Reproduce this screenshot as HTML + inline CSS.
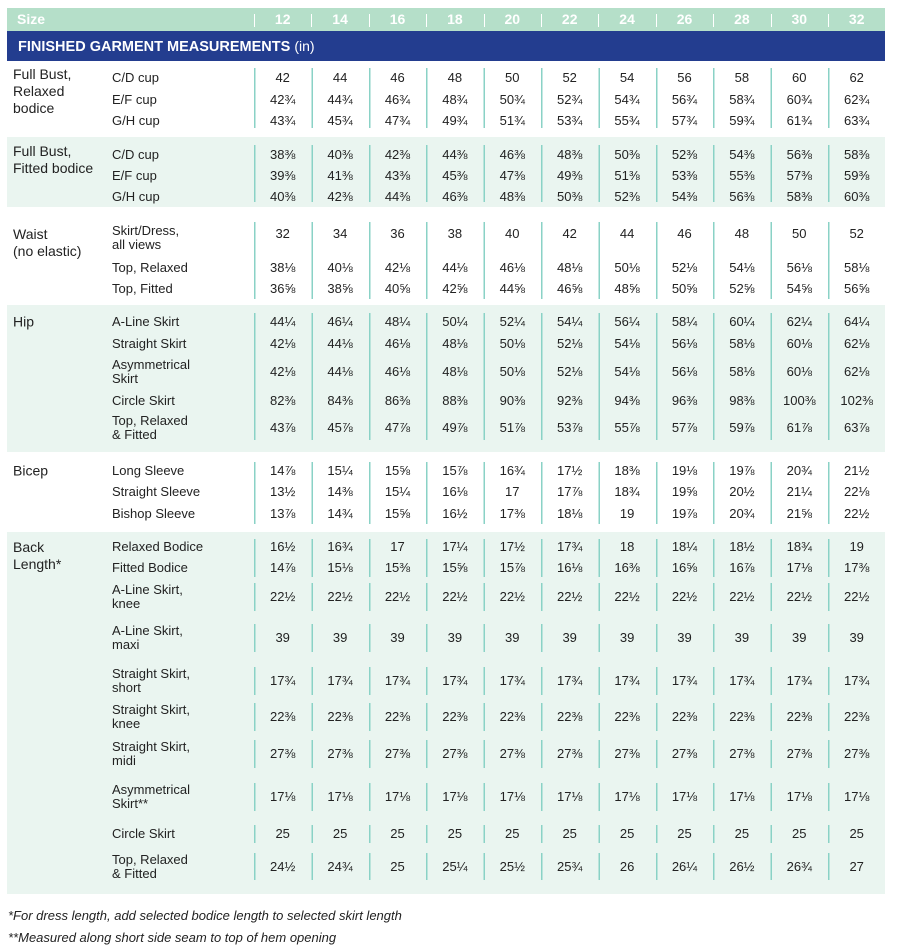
<!DOCTYPE html>
<html><head><meta charset="utf-8"><style>
*{margin:0;padding:0;box-sizing:border-box}
body{width:900px;height:952px;background:#fff;position:relative;font-family:"Liberation Sans",sans-serif;color:#222;overflow:hidden}
.a{position:absolute}
.hdr{left:7px;top:8px;width:878px;height:23px;background:#b5dfc9;color:#fff;font-weight:bold;font-size:14px}
.hdr span{position:absolute;top:3px}
.hdr .s{width:57.4px;text-align:center}
.hdr .s:before{content:"";position:absolute;left:0;top:3px;height:13px;border-left:1px solid #fff}
.blue{left:7px;top:31px;width:878px;height:30px;background:#233d8f;color:#fff;font-weight:bold;font-size:14.5px;line-height:30px;padding-left:11px}
.blue small{font-weight:normal;font-size:14px}
.g{background:#eaf5f0;left:7px;width:878px}
.lines{left:254px;width:577px;background:repeating-linear-gradient(to right,#8ad2c6 0 1.5px,transparent 1.5px 57.4px)}
.r{position:absolute;left:0;width:900px;height:0}
.r>*{position:absolute;top:0;transform:translateY(-50%)}
.lab{left:13px;font-size:14px;line-height:17px}
.sub{left:112px;font-size:13px;line-height:14px}
.c{width:57.4px;text-align:center;font-size:13px;line-height:16px}
.seg{border-left:1.5px solid #8ad2c6}
.fn{left:8px;font-style:italic;font-size:13px}
</style></head><body>
<div class="a hdr"><span style="left:10px">Size</span>
<span class="s" style="left:247px">12</span><span class="s" style="left:304.4px">14</span><span class="s" style="left:361.8px">16</span><span class="s" style="left:419.2px">18</span><span class="s" style="left:476.6px">20</span><span class="s" style="left:534px">22</span><span class="s" style="left:591.4px">24</span><span class="s" style="left:648.8px">26</span><span class="s" style="left:706.2px">28</span><span class="s" style="left:763.6px">30</span><span class="s" style="left:821px">32</span></div>
<div class="a blue">FINISHED GARMENT MEASUREMENTS <small>(in)</small></div>

<div class="a g" style="top:137px;height:70px"></div>
<div class="a g" style="top:305px;height:147px"></div>
<div class="a g" style="top:532px;height:362px"></div>

<div class="a lines" style="top:68px;height:60px"></div>
<div class="a lines" style="top:145px;height:57px"></div>
<div class="a lines" style="top:222px;height:77px"></div>
<div class="a lines" style="top:313px;height:127px"></div>
<div class="a lines" style="top:462px;height:62px"></div>
<div class="a lines" style="top:539px;height:38px"></div>

<div class="r" style="top:92px"><div class="lab" style="top:-14px;transform:none;top:-26px">Full Bust,<br>Relaxed<br>bodice</div></div>
<div class="r" style="top:78px"><div class="sub">C/D cup</div><div class="c" style="left:254px">42</div><div class="c" style="left:311.4px">44</div><div class="c" style="left:368.8px">46</div><div class="c" style="left:426.2px">48</div><div class="c" style="left:483.6px">50</div><div class="c" style="left:541px">52</div><div class="c" style="left:598.4px">54</div><div class="c" style="left:655.8px">56</div><div class="c" style="left:713.2px">58</div><div class="c" style="left:770.6px">60</div><div class="c" style="left:828px">62</div></div>
<div class="r" style="top:100px"><div class="sub">E/F cup</div><div class="c" style="left:254px">42¾</div><div class="c" style="left:311.4px">44¾</div><div class="c" style="left:368.8px">46¾</div><div class="c" style="left:426.2px">48¾</div><div class="c" style="left:483.6px">50¾</div><div class="c" style="left:541px">52¾</div><div class="c" style="left:598.4px">54¾</div><div class="c" style="left:655.8px">56¾</div><div class="c" style="left:713.2px">58¾</div><div class="c" style="left:770.6px">60¾</div><div class="c" style="left:828px">62¾</div></div>
<div class="r" style="top:121px"><div class="sub">G/H cup</div><div class="c" style="left:254px">43¾</div><div class="c" style="left:311.4px">45¾</div><div class="c" style="left:368.8px">47¾</div><div class="c" style="left:426.2px">49¾</div><div class="c" style="left:483.6px">51¾</div><div class="c" style="left:541px">53¾</div><div class="c" style="left:598.4px">55¾</div><div class="c" style="left:655.8px">57¾</div><div class="c" style="left:713.2px">59¾</div><div class="c" style="left:770.6px">61¾</div><div class="c" style="left:828px">63¾</div></div>

<div class="r" style="top:160px"><div class="lab">Full Bust,<br>Fitted bodice</div></div>
<div class="r" style="top:155px"><div class="sub">C/D cup</div><div class="c" style="left:254px">38⅜</div><div class="c" style="left:311.4px">40⅜</div><div class="c" style="left:368.8px">42⅜</div><div class="c" style="left:426.2px">44⅜</div><div class="c" style="left:483.6px">46⅜</div><div class="c" style="left:541px">48⅜</div><div class="c" style="left:598.4px">50⅜</div><div class="c" style="left:655.8px">52⅜</div><div class="c" style="left:713.2px">54⅜</div><div class="c" style="left:770.6px">56⅜</div><div class="c" style="left:828px">58⅜</div></div>
<div class="r" style="top:176px"><div class="sub">E/F cup</div><div class="c" style="left:254px">39⅜</div><div class="c" style="left:311.4px">41⅜</div><div class="c" style="left:368.8px">43⅜</div><div class="c" style="left:426.2px">45⅜</div><div class="c" style="left:483.6px">47⅜</div><div class="c" style="left:541px">49⅜</div><div class="c" style="left:598.4px">51⅜</div><div class="c" style="left:655.8px">53⅜</div><div class="c" style="left:713.2px">55⅜</div><div class="c" style="left:770.6px">57⅜</div><div class="c" style="left:828px">59⅜</div></div>
<div class="r" style="top:197px"><div class="sub">G/H cup</div><div class="c" style="left:254px">40⅜</div><div class="c" style="left:311.4px">42⅜</div><div class="c" style="left:368.8px">44⅜</div><div class="c" style="left:426.2px">46⅜</div><div class="c" style="left:483.6px">48⅜</div><div class="c" style="left:541px">50⅜</div><div class="c" style="left:598.4px">52⅜</div><div class="c" style="left:655.8px">54⅜</div><div class="c" style="left:713.2px">56⅜</div><div class="c" style="left:770.6px">58⅜</div><div class="c" style="left:828px">60⅜</div></div>

<div class="r" style="top:243px"><div class="lab">Waist<br>(no elastic)</div></div>
<div class="r" style="top:238px"><div class="sub">Skirt/Dress,<br>all views</div></div>
<div class="r" style="top:234px"><div class="c" style="left:254px">32</div><div class="c" style="left:311.4px">34</div><div class="c" style="left:368.8px">36</div><div class="c" style="left:426.2px">38</div><div class="c" style="left:483.6px">40</div><div class="c" style="left:541px">42</div><div class="c" style="left:598.4px">44</div><div class="c" style="left:655.8px">46</div><div class="c" style="left:713.2px">48</div><div class="c" style="left:770.6px">50</div><div class="c" style="left:828px">52</div></div>
<div class="r" style="top:268px"><div class="sub">Top, Relaxed</div><div class="c" style="left:254px">38⅛</div><div class="c" style="left:311.4px">40⅛</div><div class="c" style="left:368.8px">42⅛</div><div class="c" style="left:426.2px">44⅛</div><div class="c" style="left:483.6px">46⅛</div><div class="c" style="left:541px">48⅛</div><div class="c" style="left:598.4px">50⅛</div><div class="c" style="left:655.8px">52⅛</div><div class="c" style="left:713.2px">54⅛</div><div class="c" style="left:770.6px">56⅛</div><div class="c" style="left:828px">58⅛</div></div>
<div class="r" style="top:289px"><div class="sub">Top, Fitted</div><div class="c" style="left:254px">36⅝</div><div class="c" style="left:311.4px">38⅝</div><div class="c" style="left:368.8px">40⅝</div><div class="c" style="left:426.2px">42⅝</div><div class="c" style="left:483.6px">44⅝</div><div class="c" style="left:541px">46⅝</div><div class="c" style="left:598.4px">48⅝</div><div class="c" style="left:655.8px">50⅝</div><div class="c" style="left:713.2px">52⅝</div><div class="c" style="left:770.6px">54⅝</div><div class="c" style="left:828px">56⅝</div></div>

<div class="r" style="top:322px"><div class="lab">Hip</div><div class="sub">A-Line Skirt</div><div class="c" style="left:254px">44¼</div><div class="c" style="left:311.4px">46¼</div><div class="c" style="left:368.8px">48¼</div><div class="c" style="left:426.2px">50¼</div><div class="c" style="left:483.6px">52¼</div><div class="c" style="left:541px">54¼</div><div class="c" style="left:598.4px">56¼</div><div class="c" style="left:655.8px">58¼</div><div class="c" style="left:713.2px">60¼</div><div class="c" style="left:770.6px">62¼</div><div class="c" style="left:828px">64¼</div></div>
<div class="r" style="top:344px"><div class="sub">Straight Skirt</div><div class="c" style="left:254px">42⅛</div><div class="c" style="left:311.4px">44⅛</div><div class="c" style="left:368.8px">46⅛</div><div class="c" style="left:426.2px">48⅛</div><div class="c" style="left:483.6px">50⅛</div><div class="c" style="left:541px">52⅛</div><div class="c" style="left:598.4px">54⅛</div><div class="c" style="left:655.8px">56⅛</div><div class="c" style="left:713.2px">58⅛</div><div class="c" style="left:770.6px">60⅛</div><div class="c" style="left:828px">62⅛</div></div>
<div class="r" style="top:372px"><div class="sub">Asymmetrical<br>Skirt</div><div class="c" style="left:254px">42⅛</div><div class="c" style="left:311.4px">44⅛</div><div class="c" style="left:368.8px">46⅛</div><div class="c" style="left:426.2px">48⅛</div><div class="c" style="left:483.6px">50⅛</div><div class="c" style="left:541px">52⅛</div><div class="c" style="left:598.4px">54⅛</div><div class="c" style="left:655.8px">56⅛</div><div class="c" style="left:713.2px">58⅛</div><div class="c" style="left:770.6px">60⅛</div><div class="c" style="left:828px">62⅛</div></div>
<div class="r" style="top:401px"><div class="sub">Circle Skirt</div><div class="c" style="left:254px">82⅜</div><div class="c" style="left:311.4px">84⅜</div><div class="c" style="left:368.8px">86⅜</div><div class="c" style="left:426.2px">88⅜</div><div class="c" style="left:483.6px">90⅜</div><div class="c" style="left:541px">92⅜</div><div class="c" style="left:598.4px">94⅜</div><div class="c" style="left:655.8px">96⅜</div><div class="c" style="left:713.2px">98⅜</div><div class="c" style="left:770.6px">100⅜</div><div class="c" style="left:828px">102⅜</div></div>
<div class="r" style="top:428px"><div class="sub">Top, Relaxed<br>&amp; Fitted</div><div class="c" style="left:254px">43⅞</div><div class="c" style="left:311.4px">45⅞</div><div class="c" style="left:368.8px">47⅞</div><div class="c" style="left:426.2px">49⅞</div><div class="c" style="left:483.6px">51⅞</div><div class="c" style="left:541px">53⅞</div><div class="c" style="left:598.4px">55⅞</div><div class="c" style="left:655.8px">57⅞</div><div class="c" style="left:713.2px">59⅞</div><div class="c" style="left:770.6px">61⅞</div><div class="c" style="left:828px">63⅞</div></div>

<div class="r" style="top:471px"><div class="lab">Bicep</div><div class="sub">Long Sleeve</div><div class="c" style="left:254px">14⅞</div><div class="c" style="left:311.4px">15¼</div><div class="c" style="left:368.8px">15⅝</div><div class="c" style="left:426.2px">15⅞</div><div class="c" style="left:483.6px">16¾</div><div class="c" style="left:541px">17½</div><div class="c" style="left:598.4px">18⅜</div><div class="c" style="left:655.8px">19⅛</div><div class="c" style="left:713.2px">19⅞</div><div class="c" style="left:770.6px">20¾</div><div class="c" style="left:828px">21½</div></div>
<div class="r" style="top:492px"><div class="sub">Straight Sleeve</div><div class="c" style="left:254px">13½</div><div class="c" style="left:311.4px">14⅜</div><div class="c" style="left:368.8px">15¼</div><div class="c" style="left:426.2px">16⅛</div><div class="c" style="left:483.6px">17</div><div class="c" style="left:541px">17⅞</div><div class="c" style="left:598.4px">18¾</div><div class="c" style="left:655.8px">19⅝</div><div class="c" style="left:713.2px">20½</div><div class="c" style="left:770.6px">21¼</div><div class="c" style="left:828px">22⅛</div></div>
<div class="r" style="top:514px"><div class="sub">Bishop Sleeve</div><div class="c" style="left:254px">13⅞</div><div class="c" style="left:311.4px">14¾</div><div class="c" style="left:368.8px">15⅝</div><div class="c" style="left:426.2px">16½</div><div class="c" style="left:483.6px">17⅜</div><div class="c" style="left:541px">18⅛</div><div class="c" style="left:598.4px">19</div><div class="c" style="left:655.8px">19⅞</div><div class="c" style="left:713.2px">20¾</div><div class="c" style="left:770.6px">21⅝</div><div class="c" style="left:828px">22½</div></div>

<div class="r" style="top:556px"><div class="lab">Back<br>Length*</div></div>
<div class="r" style="top:547px"><div class="sub">Relaxed Bodice</div><div class="c" style="left:254px">16½</div><div class="c" style="left:311.4px">16¾</div><div class="c" style="left:368.8px">17</div><div class="c" style="left:426.2px">17¼</div><div class="c" style="left:483.6px">17½</div><div class="c" style="left:541px">17¾</div><div class="c" style="left:598.4px">18</div><div class="c" style="left:655.8px">18¼</div><div class="c" style="left:713.2px">18½</div><div class="c" style="left:770.6px">18¾</div><div class="c" style="left:828px">19</div></div>
<div class="r" style="top:568px"><div class="sub">Fitted Bodice</div><div class="c" style="left:254px">14⅞</div><div class="c" style="left:311.4px">15⅛</div><div class="c" style="left:368.8px">15⅜</div><div class="c" style="left:426.2px">15⅝</div><div class="c" style="left:483.6px">15⅞</div><div class="c" style="left:541px">16⅛</div><div class="c" style="left:598.4px">16⅜</div><div class="c" style="left:655.8px">16⅝</div><div class="c" style="left:713.2px">16⅞</div><div class="c" style="left:770.6px">17⅛</div><div class="c" style="left:828px">17⅜</div></div>

<div class="a lines" style="top:583px;height:28px"></div>
<div class="a lines" style="top:624px;height:28px"></div>
<div class="a lines" style="top:667px;height:28px"></div>
<div class="a lines" style="top:703px;height:28px"></div>
<div class="a lines" style="top:740px;height:28px"></div>
<div class="a lines" style="top:783px;height:28px"></div>
<div class="a lines" style="top:825px;height:18px"></div>
<div class="a lines" style="top:853px;height:27px"></div>

<div class="r" style="top:597px"><div class="sub">A-Line Skirt,<br>knee</div><div class="c" style="left:254px">22½</div><div class="c" style="left:311.4px">22½</div><div class="c" style="left:368.8px">22½</div><div class="c" style="left:426.2px">22½</div><div class="c" style="left:483.6px">22½</div><div class="c" style="left:541px">22½</div><div class="c" style="left:598.4px">22½</div><div class="c" style="left:655.8px">22½</div><div class="c" style="left:713.2px">22½</div><div class="c" style="left:770.6px">22½</div><div class="c" style="left:828px">22½</div></div>
<div class="r" style="top:638px"><div class="sub">A-Line Skirt,<br>maxi</div><div class="c" style="left:254px">39</div><div class="c" style="left:311.4px">39</div><div class="c" style="left:368.8px">39</div><div class="c" style="left:426.2px">39</div><div class="c" style="left:483.6px">39</div><div class="c" style="left:541px">39</div><div class="c" style="left:598.4px">39</div><div class="c" style="left:655.8px">39</div><div class="c" style="left:713.2px">39</div><div class="c" style="left:770.6px">39</div><div class="c" style="left:828px">39</div></div>
<div class="r" style="top:681px"><div class="sub">Straight Skirt,<br>short</div><div class="c" style="left:254px">17¾</div><div class="c" style="left:311.4px">17¾</div><div class="c" style="left:368.8px">17¾</div><div class="c" style="left:426.2px">17¾</div><div class="c" style="left:483.6px">17¾</div><div class="c" style="left:541px">17¾</div><div class="c" style="left:598.4px">17¾</div><div class="c" style="left:655.8px">17¾</div><div class="c" style="left:713.2px">17¾</div><div class="c" style="left:770.6px">17¾</div><div class="c" style="left:828px">17¾</div></div>
<div class="r" style="top:717px"><div class="sub">Straight Skirt,<br>knee</div><div class="c" style="left:254px">22⅜</div><div class="c" style="left:311.4px">22⅜</div><div class="c" style="left:368.8px">22⅜</div><div class="c" style="left:426.2px">22⅜</div><div class="c" style="left:483.6px">22⅜</div><div class="c" style="left:541px">22⅜</div><div class="c" style="left:598.4px">22⅜</div><div class="c" style="left:655.8px">22⅜</div><div class="c" style="left:713.2px">22⅜</div><div class="c" style="left:770.6px">22⅜</div><div class="c" style="left:828px">22⅜</div></div>
<div class="r" style="top:754px"><div class="sub">Straight Skirt,<br>midi</div><div class="c" style="left:254px">27⅜</div><div class="c" style="left:311.4px">27⅜</div><div class="c" style="left:368.8px">27⅜</div><div class="c" style="left:426.2px">27⅜</div><div class="c" style="left:483.6px">27⅜</div><div class="c" style="left:541px">27⅜</div><div class="c" style="left:598.4px">27⅜</div><div class="c" style="left:655.8px">27⅜</div><div class="c" style="left:713.2px">27⅜</div><div class="c" style="left:770.6px">27⅜</div><div class="c" style="left:828px">27⅜</div></div>
<div class="r" style="top:797px"><div class="sub">Asymmetrical<br>Skirt**</div><div class="c" style="left:254px">17⅛</div><div class="c" style="left:311.4px">17⅛</div><div class="c" style="left:368.8px">17⅛</div><div class="c" style="left:426.2px">17⅛</div><div class="c" style="left:483.6px">17⅛</div><div class="c" style="left:541px">17⅛</div><div class="c" style="left:598.4px">17⅛</div><div class="c" style="left:655.8px">17⅛</div><div class="c" style="left:713.2px">17⅛</div><div class="c" style="left:770.6px">17⅛</div><div class="c" style="left:828px">17⅛</div></div>
<div class="r" style="top:834px"><div class="sub">Circle Skirt</div><div class="c" style="left:254px">25</div><div class="c" style="left:311.4px">25</div><div class="c" style="left:368.8px">25</div><div class="c" style="left:426.2px">25</div><div class="c" style="left:483.6px">25</div><div class="c" style="left:541px">25</div><div class="c" style="left:598.4px">25</div><div class="c" style="left:655.8px">25</div><div class="c" style="left:713.2px">25</div><div class="c" style="left:770.6px">25</div><div class="c" style="left:828px">25</div></div>
<div class="r" style="top:867px"><div class="sub">Top, Relaxed<br>&amp; Fitted</div><div class="c" style="left:254px">24½</div><div class="c" style="left:311.4px">24¾</div><div class="c" style="left:368.8px">25</div><div class="c" style="left:426.2px">25¼</div><div class="c" style="left:483.6px">25½</div><div class="c" style="left:541px">25¾</div><div class="c" style="left:598.4px">26</div><div class="c" style="left:655.8px">26¼</div><div class="c" style="left:713.2px">26½</div><div class="c" style="left:770.6px">26¾</div><div class="c" style="left:828px">27</div></div>

<div class="a fn" style="top:908px">*For dress length, add selected bodice length to selected skirt length</div>
<div class="a fn" style="top:930px">**Measured along short side seam to top of hem opening</div>
</body></html>
